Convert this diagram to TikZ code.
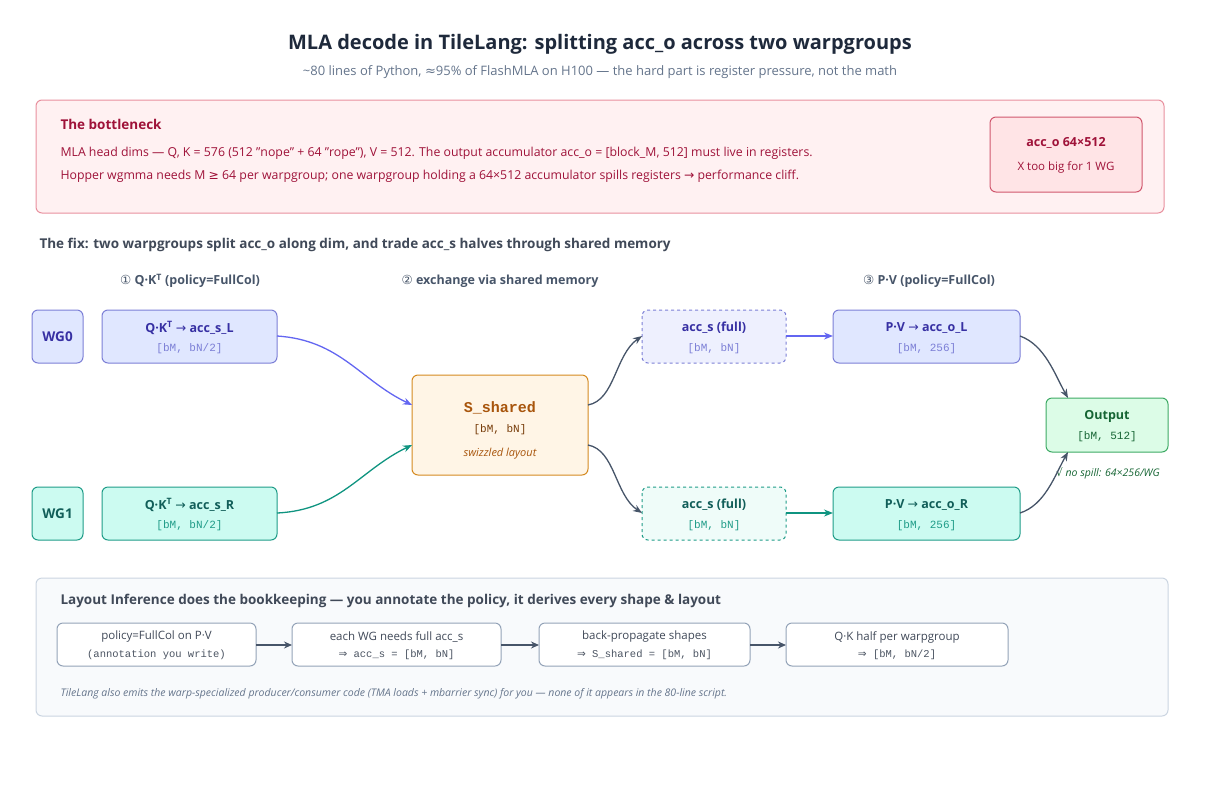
\documentclass[tikz,border=0pt]{standalone}
\usepackage{fontspec}
\setmainfont{Open Sans}
\setmonofont{Liberation Mono}
\newfontfamily\dv{DejaVu Sans}
\newcommand{\rarr}{{\dv\mdseries →}}
\usetikzlibrary{arrows.meta}
\definecolor{bluef}{HTML}{E0E7FF}\definecolor{blueb}{HTML}{7C7FD6}\definecolor{bluet}{HTML}{3730A3}
\definecolor{bluel}{HTML}{EEF0FE}\definecolor{bluea}{HTML}{6366F1}
\definecolor{tealf}{HTML}{CCFBF1}\definecolor{tealb}{HTML}{1F9C88}\definecolor{tealt}{HTML}{115E59}
\definecolor{teall}{HTML}{EFFCF9}\definecolor{teala}{HTML}{0F9480}
\definecolor{orf}{HTML}{FFF5E6}\definecolor{orb}{HTML}{D58A20}\definecolor{ort}{HTML}{A8550C}
\definecolor{grf}{HTML}{DCFCE7}\definecolor{grb}{HTML}{3DAA64}\definecolor{grt}{HTML}{166534}
\definecolor{pkf}{HTML}{FFF1F2}\definecolor{pkb}{HTML}{E8909E}\definecolor{pkt}{HTML}{9F1239}\definecolor{pki}{HTML}{FFE4E6}\definecolor{pkib}{HTML}{D0576E}
\definecolor{gpf}{HTML}{F8FAFC}\definecolor{gpb}{HTML}{CBD5E1}\definecolor{gbb}{HTML}{94A3B8}
\definecolor{dark}{HTML}{475569}\definecolor{ink}{HTML}{1E293B}\definecolor{sub}{HTML}{64748B}
\begin{document}
\begin{tikzpicture}[x=1pt,y=-1pt,
 box/.style={draw,rounded corners=6pt,line width=1pt},
 bl/.style={box,fill=bluef,draw=blueb,text=bluet},
 tl/.style={box,fill=tealf,draw=tealb,text=tealt},
 ar/.style={-{Stealth[length=9pt,width=7pt]},line width=1.3pt},
 lbl/.style={font=\fontsize{12.5}{14}\selectfont\bfseries},
 dim/.style={font=\ttfamily\fontsize{11}{12}\selectfont},
 sm/.style={font=\fontsize{12.3}{14}\selectfont}]
\useasboundingbox (0,0) rectangle (1219,793);
\node[font=\fontsize{20}{22}\selectfont\bfseries,text=ink] (title) at (600,44) {MLA decode in TileLang: splitting acc\_o across two warpgroups};
\node[font=\fontsize{13}{15}\selectfont,text=sub] (subt) at (600,72) {\textasciitilde80 lines of Python, {\dv ≈}95\% of FlashMLA on H100 — the hard part is register pressure, not the math};
% bottleneck
\draw[box,fill=pkf,draw=pkb] (36,100) rectangle (1164,213);
\node[anchor=west,font=\fontsize{13.5}{15}\selectfont\bfseries,text=pkt] (bt) at (57,124) {The bottleneck};
\node[anchor=west,sm,text=pkt] (b1) at (57,153) {MLA head dims — Q, K = 576 (512 "nope" + 64 "rope"), V = 512. The output accumulator acc\_o = [block\_M, 512] must live in registers.};
\node[anchor=west,sm,text=pkt] (b2) at (57,176) {Hopper wgmma needs M {\dv ≥} 64 per warpgroup; one warpgroup holding a 64×512 accumulator spills registers \rarr{} performance cliff.};
\draw[box,fill=pki,draw=pkib] (990,117) rectangle (1142,192);
\node[lbl,text=pkt] (ao) at (1066,143) {acc\_o 64×512};
\node[font=\fontsize{11.5}{13}\selectfont,text=pkt] (ao2) at (1066,167) {X too big for 1 WG};
% fix heading
\node[anchor=west,font=\fontsize{13.5}{15}\selectfont\bfseries,text=ink!85] (fix) at (36,245) {The fix: two warpgroups split acc\_o along dim, and trade acc\_s halves through shared memory};
\node[lbl,text=dark] (c1) at (190,281) {{\dv\mdseries ①} Q·K\textsuperscript{T} (policy=FullCol)};
\node[lbl,text=dark] (c2) at (500,281) {{\dv\mdseries ②} exchange via shared memory};
\node[lbl,text=dark] (c3) at (929,281) {{\dv\mdseries ③} P·V (policy=FullCol)};
% nodes
\draw[bl] (32,310) rectangle (83,363); \node[lbl,font=\fontsize{13.5}{14}\selectfont\bfseries,text=bluet] (wg0) at (57.5,336.5) {WG0};
\draw[tl] (32,487) rectangle (83,540); \node[lbl,font=\fontsize{13.5}{14}\selectfont\bfseries,text=tealt] (wg1) at (57.5,513.5) {WG1};
\draw[bl] (102,310) rectangle (277,363);
\node[lbl,text=bluet] (ql) at (189.5,328) {Q·K\textsuperscript{T} \rarr{} acc\_s\_L};
\node[dim,text=blueb] (qld) at (189.5,349) {[bM, bN/2]};
\draw[tl] (102,487) rectangle (277,540);
\node[lbl,text=tealt] (qr) at (189.5,505) {Q·K\textsuperscript{T} \rarr{} acc\_s\_R};
\node[dim,text=tealb] (qrd) at (189.5,526) {[bM, bN/2]};
\coordinate (qlE) at (277,336); \coordinate (qrE) at (277,513);
\draw[box,fill=orf,draw=orb] (412,375) rectangle (588,475);
\node[font=\ttfamily\fontsize{15}{16}\selectfont\bfseries,text=ort] (sh) at (500,408) {S\_shared};
\node[dim,text=ort!70!black] (shd) at (500,430) {[bM, bN]};
\node[font=\fontsize{11}{12}\selectfont\itshape,text=ort] (shn) at (500,454) {swizzled layout};
\coordinate (shW1) at (412,405); \coordinate (shW2) at (412,445);
\coordinate (shE1) at (588,405); \coordinate (shE2) at (588,445);
\draw[box,fill=bluel,draw=blueb,dashed] (642,310) rectangle (786,363);
\node[lbl,text=bluet] (fa) at (714,328) {acc\_s (full)};
\node[dim,text=blueb] (fad) at (714,349) {[bM, bN]};
\draw[box,fill=teall,draw=tealb,dashed] (642,487) rectangle (786,540);
\node[lbl,text=tealt] (fb) at (714,505) {acc\_s (full)};
\node[dim,text=tealb] (fbd) at (714,526) {[bM, bN]};
\draw[bl] (833,310) rectangle (1020,363);
\node[lbl,text=bluet] (pl) at (926.5,328) {P·V \rarr{} acc\_o\_L};
\node[dim,text=blueb] (pld) at (926.5,349) {[bM, 256]};
\draw[tl] (833,487) rectangle (1020,540);
\node[lbl,text=tealt] (pr) at (926.5,505) {P·V \rarr{} acc\_o\_R};
\node[dim,text=tealb] (prd) at (926.5,526) {[bM, 256]};
\draw[box,fill=grf,draw=grb] (1046,398) rectangle (1168,452);
\node[lbl,text=grt] (out) at (1107,416) {Output};
\node[dim,text=grt] (outd) at (1107,437) {[bM, 512]};
\node[font=\fontsize{10.5}{12}\selectfont\itshape,text=grt] (ns) at (1108,473) {{\dv\upshape √} no spill: 64×256/WG};
% arrows
\coordinate (faW) at (642,336); \coordinate (fbW) at (642,513);
\coordinate (faE) at (786,336); \coordinate (fbE) at (786,513);
\coordinate (plW) at (833,336); \coordinate (prW) at (833,513);
\coordinate (plE) at (1020,336); \coordinate (prE) at (1020,513);
\coordinate (oT) at (1068,398); \coordinate (oB) at (1068,452);
\draw[ar,bluea] (qlE) .. controls (340,340) and (360,380) .. (shW1);
\draw[ar,teala] (qrE) .. controls (340,510) and (360,470) .. (shW2);
\draw[ar,dark] (shE1) .. controls (615,400) and (615,355) .. (faW);
\draw[ar,dark] (shE2) .. controls (615,450) and (615,495) .. (fbW);
\draw[ar,bluea] (faE) -- (plW);
\draw[ar,teala] (fbE) -- (prW);
\draw[ar,dark] (plE) .. controls (1045,345) and (1055,375) .. (oT);
\draw[ar,dark] (prE) .. controls (1045,505) and (1055,475) .. (oB);
% bottom panel
\draw[box,fill=gpf,draw=gpb] (36,578) rectangle (1168,716);
\node[anchor=west,font=\fontsize{13.5}{15}\selectfont\bfseries,text=ink!85] (lh) at (57,601) {Layout Inference does the bookkeeping — you annotate the policy, it derives every shape \& layout};
\tikzset{st/.style={box,fill=white,draw=gbb}, s1/.style={font=\fontsize{11.5}{13}\selectfont,text=ink!85}, s2/.style={font=\ttfamily\fontsize{10.5}{11}\selectfont,text=ink!80}}
\draw[st] (57,623) rectangle (256,666);
\node[s1] (p1) at (156.5,637) {policy=FullCol on P·V};
\node[s2] (p1b) at (156.5,655) {(annotation you write)};
\draw[st] (292,623) rectangle (501,666);
\node[s1] (p2) at (396.5,637) {each WG needs full acc\_s};
\node[s2] (p2b) at (396.5,655) {{\dv ⇒} acc\_s = [bM, bN]};
\draw[st] (539,623) rectangle (750,666);
\node[s1] (p3) at (644.5,637) {back-propagate shapes};
\node[s2] (p3b) at (644.5,655) {{\dv ⇒} S\_shared = [bM, bN]};
\draw[st] (786,623) rectangle (1008,666);
\node[s1] (p4) at (897,637) {Q·K half per warpgroup};
\node[s2] (p4b) at (897,655) {{\dv ⇒} [bM, bN/2]};
\tikzset{sa/.style={-{Stealth[length=8pt,width=7pt]},line width=1.5pt,dark}}
\draw[sa] (256,645) -- (292,645);
\draw[sa] (501,645) -- (539,645);
\draw[sa] (750,645) -- (786,645);
\node[anchor=west,font=\fontsize{10.5}{12}\selectfont\itshape,text=sub] (foot) at (57,694) {TileLang also emits the warp-specialized producer/consumer code (TMA loads + mbarrier sync) for you — none of it appears in the 80-line script.};
\end{tikzpicture}
\end{document}
